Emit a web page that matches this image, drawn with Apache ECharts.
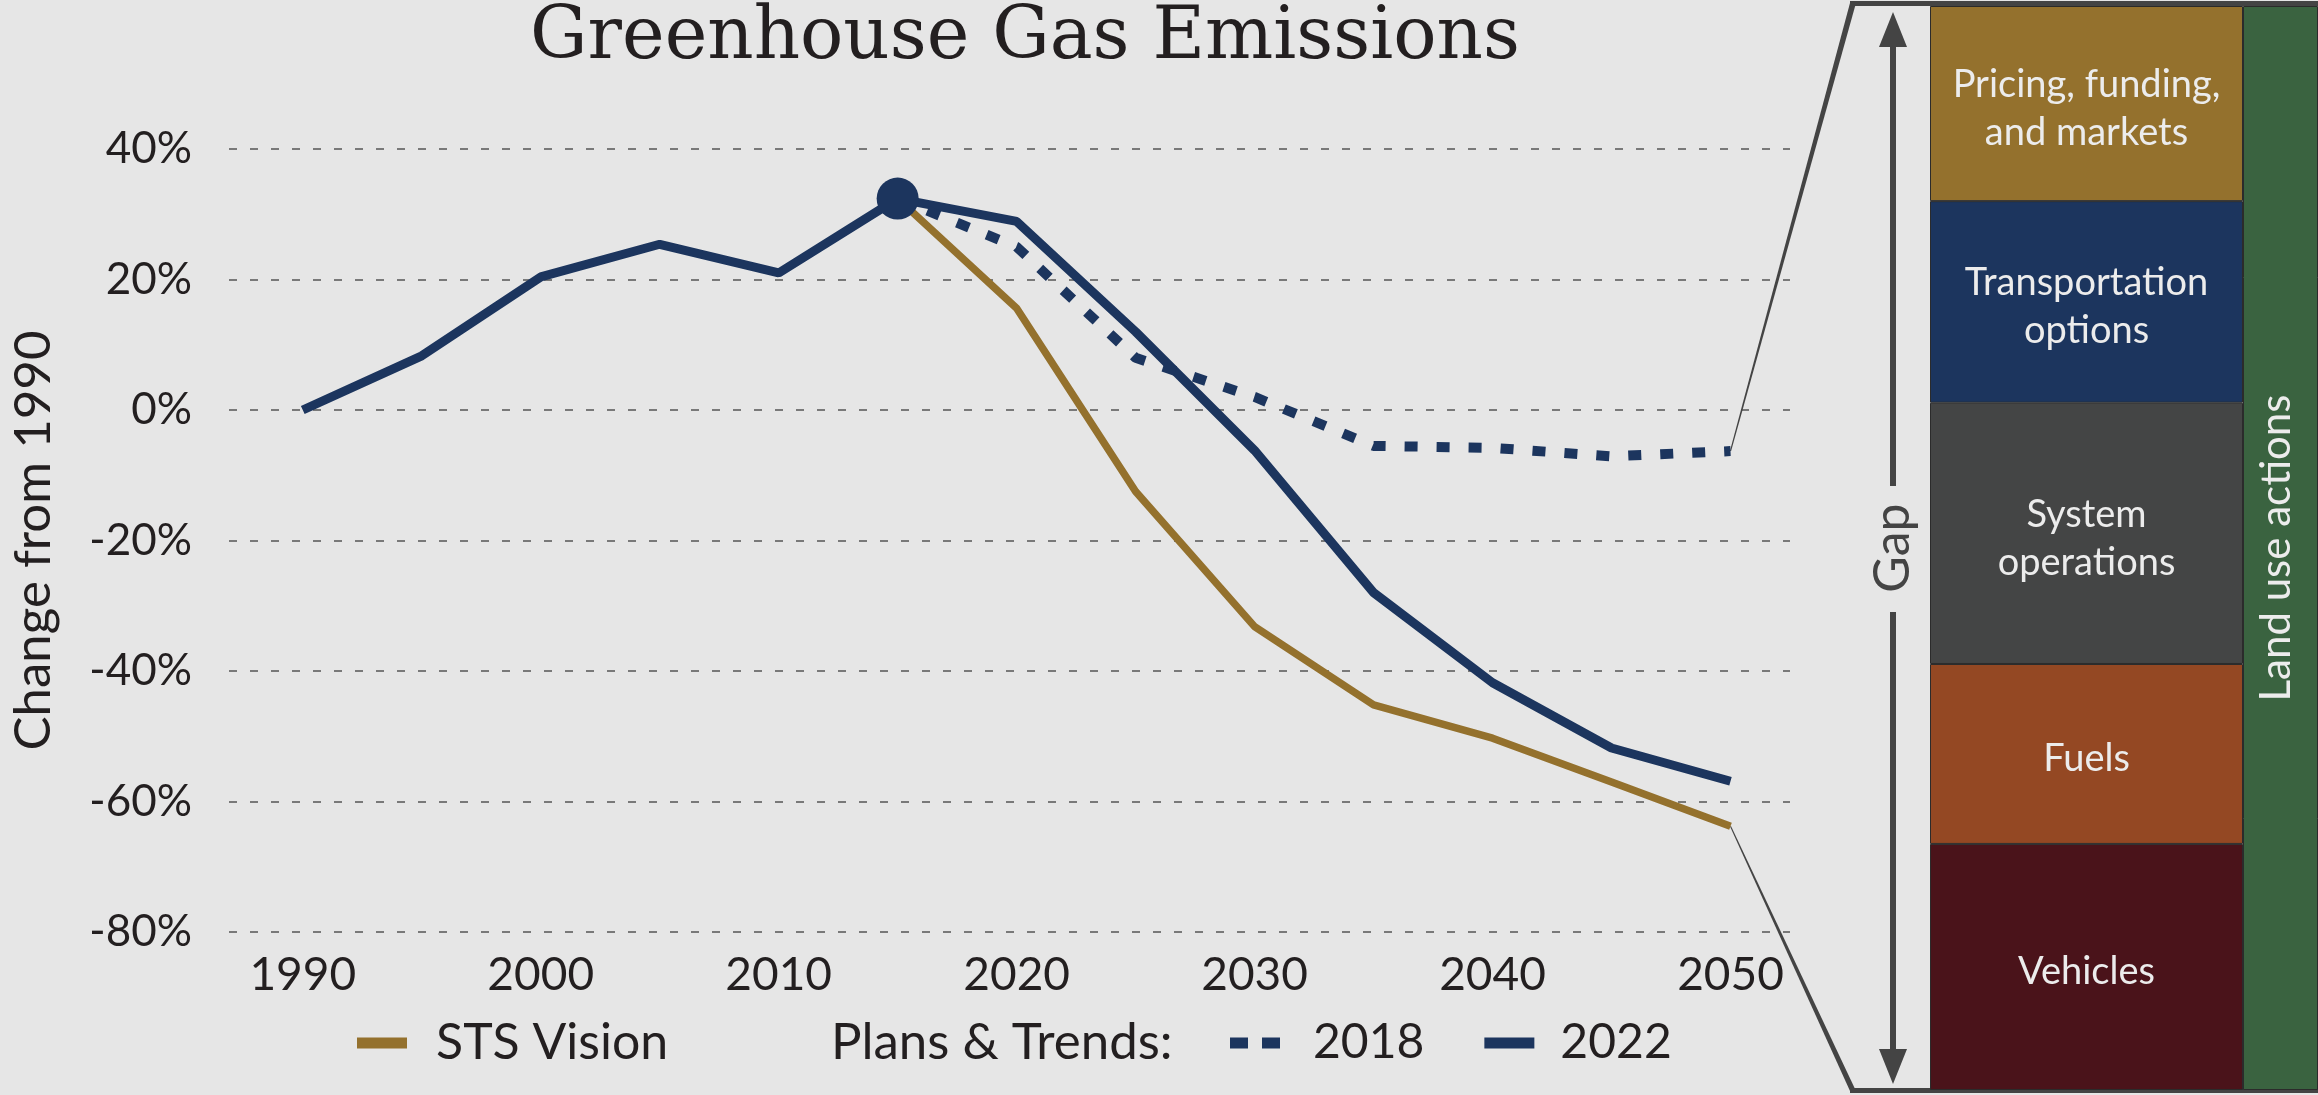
<!DOCTYPE html>
<html>
<head>
<meta charset="utf-8">
<title>Greenhouse Gas Emissions</title>
<script src="https://cdn.jsdelivr.net/npm/echarts@6/dist/echarts.min.js"></script>
<style>
html, body { margin: 0; padding: 0; background: #e6e6e6; }
#chart { width: 2318px; height: 1095px; }
</style>
</head>
<body>
<div id="chart"></div>
<script>
// history + 2022 plans & trends
var years2022 = [1990, 1995, 2000, 2005, 2010, 2015, 2020, 2025, 2030, 2035, 2040, 2045, 2050];
var plans2022 = [0, 8.3, 20.4, 25.4, 21.0, 32.4, 28.9, 12.0, -6.2, -28.0, -41.8, -51.8, -56.9];
// projections starting from 2015
var yearsOut = [2015, 2020, 2025, 2030, 2035, 2040, 2045, 2050];
var plans2018 = [32.4, 25.0, 8.0, 2.0, -5.5, -5.8, -7.1, -6.3];
var stsVision = [32.4, 15.6, -12.5, -33.2, -45.2, -50.3, -57.0, -63.8];
var yearTicks = [1990, 2000, 2010, 2020, 2030, 2040, 2050];
var peakYear = 2015;
// gap breakdown, bottom to top (share of the gap, %)
var gapActions = ['Vehicles', 'Fuels', 'System\noperations', 'Transportation\noptions', 'Pricing, funding,\nand markets'];
var gapShares = [22.7, 16.6, 24.1, 18.6, 18.0];
var landUse = ['Land use actions'];
var landUseShare = [100];

var gapColors = ['#4a131a', '#944823', '#444545', '#1c355e', '#94712d'];
var navy = '#1c355e', gold = '#94712d', ink = '#231f20';

function zip(xs, ys) {
    var out = [];
    for (var i = 0; i < xs.length; i++) {
        out.push([xs[i], ys[i]]);
    }
    return out;
}

var chart = echarts.init(document.getElementById('chart'));

var series = [
    {
        name: 'STS Vision',
        type: 'line',
        data: zip(yearsOut, stsVision),
        symbol: 'none',
        color: gold,
        lineStyle: { color: gold, width: 7.5 },
        z: 2
    },
    {
        name: '2022',
        type: 'line',
        data: zip(years2022, plans2022),
        symbol: 'none',
        color: navy,
        lineStyle: { color: navy, width: 9 },
        z: 3
    },
    {
        name: '2018',
        type: 'line',
        data: zip(yearsOut, plans2018),
        symbol: 'none',
        color: navy,
        lineStyle: { color: navy, width: 10, type: [13, 19] },
        z: 4
    },
    {
        name: 'peak',
        type: 'scatter',
        data: [[peakYear, plans2022[years2022.indexOf(peakYear)]]],
        symbolSize: 42,
        itemStyle: { color: navy, opacity: 1 },
        z: 5
    }
];

for (var i = 0; i < gapActions.length; i++) {
    series.push({
        name: gapActions[i],
        type: 'bar',
        xAxisIndex: 1,
        yAxisIndex: 1,
        stack: 'gap',
        barWidth: '100%',
        data: [gapShares[i]],
        itemStyle: { color: gapColors[i], borderColor: '#2b2b2b', borderWidth: 1 },
        label: {
            show: true,
            position: 'inside',
            offset: [0, 5],
            formatter: '{a}',
            color: '#ececec',
            fontSize: 38,
            lineHeight: 48
        }
    });
}
series.push({
    name: landUse[0],
    type: 'bar',
    xAxisIndex: 2,
    yAxisIndex: 2,
    barWidth: '100%',
    data: landUseShare,
    itemStyle: { color: '#3a6340', borderColor: '#2b2b2b', borderWidth: 1 },
    label: {
        show: true,
        position: 'inside',
        rotate: 90,
        offset: [0, -4],
        formatter: '{a}',
        color: '#ececec',
        fontSize: 42
    }
});

var option = {
    backgroundColor: '#e6e6e6',
    animation: false,
    textStyle: { fontFamily: 'Lato' },
    title: {
        text: 'Greenhouse Gas Emissions',
        left: 1020,
        top: -2,
        textAlign: 'center',
        textStyle: { fontFamily: 'DejaVu Serif', fontSize: 72, fontWeight: 'normal', color: ink }
    },
    legend: [
        {
            data: [{ name: 'STS Vision', icon: 'rect' }],
            left: 357,
            top: 1018,
            padding: 0,
            selectedMode: false,
            itemWidth: 50,
            itemHeight: 11,
            itemStyle: { borderWidth: 0 },
            textStyle: { fontSize: 50, color: ink, padding: [0, 0, 0, 24] }
        },
        {
            data: [
                { name: '2018', icon: 'path://M0,0H18V11H0Z M32,0H50V11H32Z', textStyle: { fontSize: 48, color: ink, padding: [0, 0, 0, 28] } },
                { name: '2022', icon: 'rect', textStyle: { fontSize: 48, color: ink, padding: [0, 0, 0, 21] } }
            ],
            left: 1230,
            top: 1019,
            padding: 0,
            selectedMode: false,
            itemGap: 60,
            itemWidth: 50,
            itemHeight: 11,
            itemStyle: { borderWidth: 0 },
            textStyle: { fontSize: 48, color: ink }
        }
    ],
    grid: [
        { left: 227, right: 528, top: 149, height: 783 },
        { left: 1930, width: 313, top: 6, height: 1084 },
        { left: 2243, width: 75, top: 6, height: 1084 }
    ],
    xAxis: [
        {
            type: 'value',
            gridIndex: 0,
            min: 1986.9,
            max: 2052.5,
            axisLine: { show: false },
            axisTick: { show: false },
            splitLine: { show: false },
            axisLabel: {
                customValues: yearTicks,
                formatter: function (v) { return String(v); },
                fontSize: 46,
                color: ink,
                margin: 20
            }
        },
        { type: 'category', gridIndex: 1, data: ['gap'], show: false },
        { type: 'category', gridIndex: 2, data: ['land'], show: false }
    ],
    yAxis: [
        {
            type: 'value',
            gridIndex: 0,
            min: -80,
            max: 40,
            interval: 20,
            axisLine: { show: false },
            axisTick: { show: false },
            axisLabel: { formatter: '{value}%', fontSize: 44, color: ink, margin: 37 },
            splitLine: { lineStyle: { type: [8, 13], color: '#555', width: 1.5 } },
            name: 'Change from 1990',
            nameLocation: 'middle',
            nameGap: 170,
            nameTextStyle: { fontSize: 51, color: ink }
        },
        { type: 'value', gridIndex: 1, min: 0, max: 100, show: false },
        { type: 'value', gridIndex: 2, min: 0, max: 100, show: false }
    ],
    series: series
};
chart.setOption(option);

// zoom-out lines from the 2050 ends to the gap column, arrow and side texts
var e18 = chart.convertToPixel({ gridIndex: 0 }, [2050, plans2018[plans2018.length - 1]]);
var eSts = chart.convertToPixel({ gridIndex: 0 }, [2050, stsVision[stsVision.length - 1]]);
var edge = '#444444';
chart.setOption({
    graphic: [
        { type: 'polygon', shape: { points: [[e18[0] - 0.6, e18[1]], [e18[0] + 0.6, e18[1]], [1856, 3], [1850, 3]] }, style: { fill: edge } },
        { type: 'rect', shape: { x: 1850, y: 1, width: 468, height: 5 }, style: { fill: edge } },
        { type: 'polygon', shape: { points: [[eSts[0] - 0.6, eSts[1]], [eSts[0] + 0.6, eSts[1]], [1856, 1091], [1850, 1091]] }, style: { fill: edge } },
        { type: 'rect', shape: { x: 1850, y: 1088, width: 468, height: 5 }, style: { fill: edge } },
        { type: 'rect', shape: { x: 1890, y: 40, width: 6, height: 446 }, style: { fill: edge } },
        { type: 'rect', shape: { x: 1890, y: 612, width: 6, height: 442 }, style: { fill: edge } },
        { type: 'polygon', shape: { points: [[1893, 12], [1879, 47], [1907, 47]] }, style: { fill: edge } },
        { type: 'polygon', shape: { points: [[1893, 1084], [1879, 1049], [1907, 1049]] }, style: { fill: edge } },
        {
            type: 'text', x: 1893, y: 548, rotation: Math.PI / 2,
            style: { text: 'Gap', fontFamily: 'Lato', fontSize: 50, fill: edge, align: 'center', verticalAlign: 'middle' }
        },
        {
            type: 'text', x: 831, y: 1043,
            style: { text: 'Plans & Trends:', fontFamily: 'Lato', fontSize: 51, fill: ink, verticalAlign: 'middle' }
        }
    ]
});
window.onresize = chart.resize;
</script>
</body>
</html>
